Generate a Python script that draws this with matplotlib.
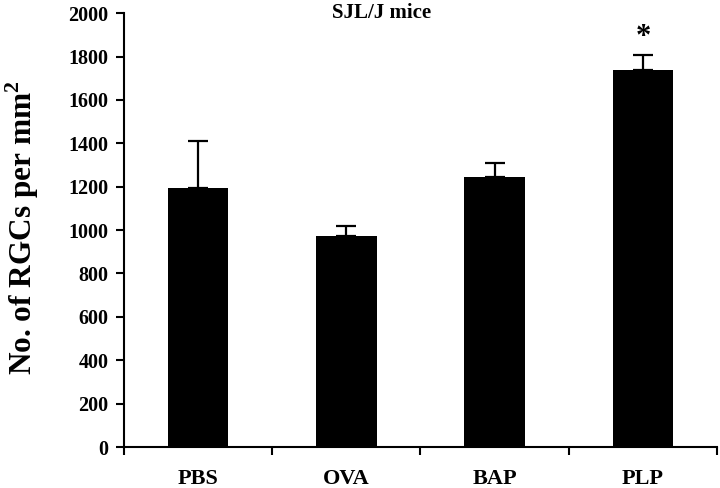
import matplotlib
matplotlib.use("Agg")
import matplotlib.pyplot as plt
import numpy as np

groups = ["PBS", "OVA", "BAP", "PLP"]
means = [1195, 975, 1247, 1736]
sem = [218, 43, 63, 70]
yticks = [0, 200, 400, 600, 800, 1000, 1200, 1400, 1600, 1800, 2000]

plt.rcParams["font.family"] = "serif"
plt.rcParams["font.serif"] = ["Liberation Serif", "DejaVu Serif"]
plt.rcParams["font.weight"] = "bold"
plt.rcParams["mathtext.fontset"] = "custom"
plt.rcParams["mathtext.rm"] = "Liberation Serif:bold"
plt.rcParams["mathtext.bf"] = "Liberation Serif:bold"

fig = plt.figure(figsize=(7.2, 4.88), dpi=100)
ax = fig.add_axes([0.172, 0.084, 0.824, 0.889])

x = np.arange(len(groups))
ax.bar(x, means, width=0.41, color="black", zorder=2)
ax.errorbar(x, means, yerr=[np.zeros(len(sem)), sem], fmt="none",
            ecolor="black", elinewidth=1.6, capsize=7, capthick=1.6, zorder=1)

# significance marker over PLP
ax.text(x[3], means[3] + sem[3] + 15, "*", ha="center", va="bottom",
        fontsize=22, fontweight="bold")

ax.text(1.24, 2000, "SJL/J mice", ha="center", va="center", fontsize=15,
        fontweight="bold")

ax.set_xlim(-0.5, len(groups) - 0.5)
ax.set_ylim(0, 2000)
ax.set_yticks(yticks)
ax.set_yticklabels([str(t) for t in yticks], fontsize=14.5, fontweight="bold")
ax.set_xticks(np.arange(-0.5, len(groups), 1.0))
ax.set_xticklabels([])
ax.set_xticks(x, minor=True)
ax.set_xticklabels(groups, minor=True, fontsize=16, fontweight="bold")
ax.tick_params(axis="x", which="minor", length=0, pad=16)
ax.tick_params(axis="x", which="major", length=6, width=1.5, direction="out")
ax.tick_params(axis="y", length=6, width=1.5, direction="out", pad=5)

ax.spines["top"].set_visible(False)
ax.spines["right"].set_visible(False)
ax.spines["left"].set_linewidth(1.5)
ax.spines["bottom"].set_linewidth(1.5)

ax.set_ylabel(r"No. of RGCs per mm$^{2}$", fontsize=22.5, fontweight="bold")
ax.yaxis.set_label_coords(-0.14, 0.505)

fig.savefig("out.png", dpi=100)
